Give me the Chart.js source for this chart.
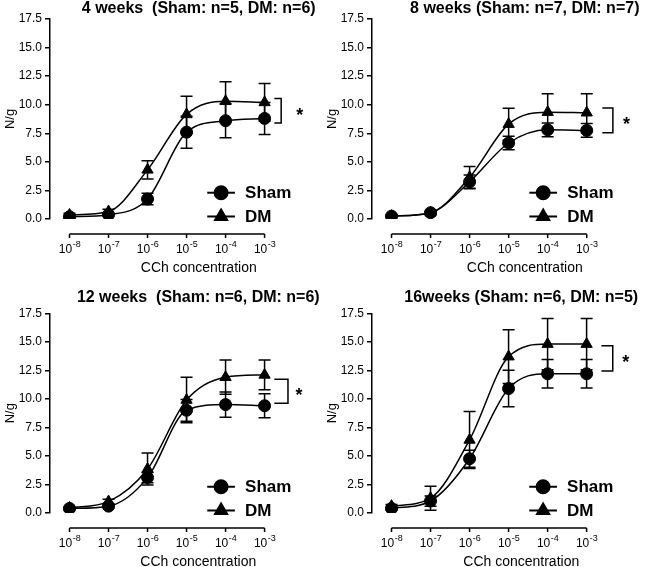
<!DOCTYPE html>
<html>
<head>
<meta charset="utf-8">
<script src="https://cdn.jsdelivr.net/npm/chart.js@4.4.1/dist/chart.umd.min.js"></script>
<style>
  html, body { margin: 0; padding: 0; background: #fff; overflow: hidden; width: 657px; height: 567px; }
  canvas { position: absolute; }
</style>
</head>
<body>
<canvas id="c1"></canvas>
<canvas id="c2"></canvas>
<canvas id="c3"></canvas>
<canvas id="c4"></canvas>
<script>
// concentrations as log10 exponents (10^-8 ... 10^-3 M)
const concExp = [-8, -7, -6, -5, -4, -3];
const xTickExp = [-8, -7, -6, -5, -4, -3];
const yTicks = [0, 2.5, 5, 7.5, 10, 12.5, 15, 17.5];
const seriesNames = ['Sham', 'DM'];

const titles = [
    '4 weeks  (Sham: n=5, DM: n=6)',
    '8 weeks (Sham: n=7, DM: n=7)',
    '12 weeks  (Sham: n=6, DM: n=6)',
    '16weeks (Sham: n=6, DM: n=5)'
];

// 4 weeks
const sham4 = [0.2, 0.38, 1.75, 7.6, 8.6, 8.8];
const sham4Sem = [0.1, 0.1, 0.5, 1.4, 1.5, 1.4];
const dm4 = [0.35, 0.65, 4.3, 9.15, 10.3, 10.2];
const dm4Sem = [0.15, 0.2, 0.8, 1.6, 1.7, 1.65];
// 8 weeks
const sham8 = [0.25, 0.55, 3.25, 6.65, 7.8, 7.75];
const sham8Sem = [0.1, 0.1, 0.6, 0.6, 0.6, 0.6];
const dm8 = [0.25, 0.55, 3.65, 8.3, 9.35, 9.3];
const dm8Sem = [0.1, 0.1, 0.95, 1.4, 1.6, 1.65];
// 12 weeks
const sham12 = [0.4, 0.6, 3.1, 9.0, 9.5, 9.4];
const sham12Sem = [0.1, 0.15, 0.45, 0.95, 1.1, 1.05];
const dm12 = [0.45, 1.0, 3.85, 9.9, 11.9, 12.1];
const dm12Sem = [0.1, 0.2, 1.4, 2.0, 1.5, 1.3];
// 16 weeks
const sham16 = [0.4, 1.05, 4.75, 10.9, 12.2, 12.2];
const sham16Sem = [0.15, 0.45, 0.75, 1.6, 1.25, 1.25];
const dm16 = [0.6, 1.3, 6.4, 13.7, 14.8, 14.8];
const dm16Sem = [0.15, 1.05, 2.5, 2.35, 2.25, 2.25];

// significance brackets: [x start, x end, y top, y bottom, asterisk x]
const bracket4 = [-2.75, -2.575, 10.55, 8.4, -2.1];
const bracket8 = [-2.6, -2.33, 9.72, 7.55, -1.98];
const bracket12 = [-2.75, -2.4, 11.72, 9.62, -2.12];
const bracket16 = [-2.62, -2.33, 14.66, 12.45, -2.0];

const shamSets = [sham4, sham8, sham12, sham16];
const shamSems = [sham4Sem, sham8Sem, sham12Sem, sham16Sem];
const dmSets = [dm4, dm8, dm12, dm16];
const dmSems = [dm4Sem, dm8Sem, dm12Sem, dm16Sem];
const brackets = [bracket4, bracket8, bracket12, bracket16];

// page geometry of each panel
const panels = [
    { id: 'c1', left: 0,   top: 0,   axisX: 50,  chartTop: 19,    titleCx: 202.5, titleMid: 9 },
    { id: 'c2', left: 322, top: 0,   axisX: 372, chartTop: 19,    titleCx: 528.5, titleMid: 9 },
    { id: 'c3', left: 0,   top: 288, axisX: 50,  chartTop: 313.3, titleCx: 202,   titleMid: 298 },
    { id: 'c4', left: 322, top: 288, axisX: 372, chartTop: 313.3, titleCx: 525,   titleMid: 298 }
];
const PX_PER_DECADE = 40;
const PLOT_H = 200;
const XAXIS_H = 66;
const X_MIN = -8.5;
const FONT = "Arial, 'Liberation Sans', sans-serif";

Chart.defaults.font.family = FONT;
Chart.defaults.color = '#000';

// offset x axis line (GraphPad style) with 10^n labels, drawn through the x scale
const xAxisLine = {
    id: 'xAxisLine',
    afterDraw(chart) {
        const { ctx, scales: { x, y } } = chart;
        const yy = y.getPixelForValue(0) + 15;
        ctx.save();
        ctx.strokeStyle = '#000';
        ctx.fillStyle = '#000';
        ctx.lineWidth = 1.5;
        ctx.beginPath();
        ctx.moveTo(x.getPixelForValue(xTickExp[0]), yy);
        ctx.lineTo(x.getPixelForValue(xTickExp[xTickExp.length - 1]), yy);
        xTickExp.forEach(v => {
            const px = x.getPixelForValue(v);
            ctx.moveTo(px, yy);
            ctx.lineTo(px, yy + 4);
        });
        ctx.stroke();

        ctx.textBaseline = 'alphabetic';
        ctx.textAlign = 'left';
        xTickExp.forEach(v => {
            const px = x.getPixelForValue(v);
            ctx.font = '12px ' + FONT;
            const wBase = ctx.measureText('10').width;
            ctx.font = '9px ' + FONT;
            const wExp = ctx.measureText(String(v)).width;
            const x0 = px - (wBase + wExp) / 2;
            ctx.font = '12px ' + FONT;
            ctx.fillText('10', x0, yy + 18.5);
            ctx.font = '9px ' + FONT;
            ctx.fillText(String(v), x0 + wBase + 0.5, yy + 13);
        });
        ctx.restore();
    }
};

// mean +/- SEM bars
const errorBars = {
    id: 'errorBars',
    beforeDatasetsDraw(chart) {
        const { ctx, scales: { x, y } } = chart;
        ctx.save();
        ctx.strokeStyle = '#000';
        ctx.lineWidth = 1.5;
        chart.data.datasets.forEach(ds => {
            ds.data.forEach((p, i) => {
                const e = ds.sem[i];
                const px = x.getPixelForValue(p.x);
                const top = y.getPixelForValue(p.y + e);
                const bot = y.getPixelForValue(p.y - e);
                ctx.beginPath();
                ctx.moveTo(px, top); ctx.lineTo(px, bot);
                ctx.moveTo(px - 6, top); ctx.lineTo(px + 6, top);
                ctx.moveTo(px - 6, bot); ctx.lineTo(px + 6, bot);
                ctx.stroke();
            });
        });
        ctx.restore();
    }
};

// significance bracket + asterisk, and the in-plot legend
const annotations = {
    id: 'annotations',
    afterDatasetsDraw(chart, args, opts) {
        const { ctx, scales: { x, y } } = chart;
        const b = opts.bracket;
        ctx.save();
        ctx.strokeStyle = '#000';
        ctx.fillStyle = '#000';
        ctx.lineWidth = 1.5;
        const x1 = x.getPixelForValue(b[0]), x2 = x.getPixelForValue(b[1]);
        const yt = y.getPixelForValue(b[2]), yb = y.getPixelForValue(b[3]);
        ctx.beginPath();
        ctx.moveTo(x1, yt); ctx.lineTo(x2, yt); ctx.lineTo(x2, yb); ctx.lineTo(x1, yb);
        ctx.stroke();
        ctx.font = 'bold 18px ' + FONT;
        ctx.textAlign = 'center';
        ctx.textBaseline = 'alphabetic';
        ctx.fillText('*', x.getPixelForValue(b[4]), (yt + yb) / 2 + 10);

        // legend
        const legY = [2.3, 0.22];
        chart.data.datasets.forEach((ds, i) => {
            const ly = y.getPixelForValue(legY[i]);
            const lx1 = x.getPixelForValue(-4.47), lx2 = x.getPixelForValue(-3.76);
            ctx.beginPath();
            ctx.moveTo(lx1, ly); ctx.lineTo(lx2, ly);
            ctx.lineWidth = 2;
            ctx.stroke();
            Chart.helpers.drawPoint(ctx, { pointStyle: ds.pointStyle, radius: ds.pointRadius + 0.5, rotation: 0, borderWidth: 1 }, (lx1 + lx2) / 2, ly);
            ctx.font = 'bold 17px ' + FONT;
            ctx.textAlign = 'left';
            ctx.textBaseline = 'middle';
            ctx.fillText(ds.label, x.getPixelForValue(-3.5), ly + 1);
        });
        ctx.restore();
    }
};

function makePanel(k) {
    const g = panels[k];
    const canvas = document.getElementById(g.id);
    const right = 2 * g.titleCx - g.axisX;
    const titleTop = g.titleMid - 8 - g.top;
    const titleBottom = g.chartTop - g.top - titleTop - 16;
    canvas.width = right - g.left;
    canvas.height = (g.chartTop - g.top) + PLOT_H + XAXIS_H;
    canvas.style.left = g.left + 'px';
    canvas.style.top = g.top + 'px';
    const xMax = X_MIN + (right - g.axisX) / PX_PER_DECADE;

    const mk = (vals, sem, i) => ({
        label: seriesNames[i],
        data: concExp.map((c, j) => ({ x: c, y: vals[j] })),
        sem: sem,
        borderColor: '#000',
        backgroundColor: '#000',
        borderWidth: 1.5,
        cubicInterpolationMode: 'monotone',
        pointStyle: i === 0 ? 'circle' : 'triangle',
        pointRadius: i === 0 ? 6 : 6.5,
        pointBackgroundColor: '#000',
        pointBorderColor: '#000',
        pointBorderWidth: 1
    });

    new Chart(canvas, {
        type: 'line',
        data: { datasets: [mk(shamSets[k], shamSems[k], 0), mk(dmSets[k], dmSems[k], 1)] },
        options: {
            responsive: false,
            animation: false,
            layout: { padding: 0 },
            plugins: {
                legend: { display: false },
                tooltip: { enabled: false },
                title: {
                    display: true,
                    text: titles[k],
                    fullSize: false,
                    color: '#000',
                    font: { size: 16, weight: 'bold', lineHeight: 1 },
                    padding: { top: titleTop, bottom: titleBottom }
                },
                annotations: { bracket: brackets[k] }
            },
            scales: {
                x: {
                    type: 'linear',
                    min: X_MIN,
                    max: xMax,
                    afterBuildTicks: s => { s.ticks = xTickExp.map(v => ({ value: v })); },
                    afterFit: s => { s.height = XAXIS_H; },
                    border: { display: false },
                    grid: { display: false, drawTicks: false },
                    ticks: { display: false },
                    title: { display: true, text: 'CCh concentration', color: '#000', font: { size: 14 },
                             padding: { top: 0, bottom: 8 } }
                },
                y: {
                    type: 'linear',
                    min: 0,
                    max: 17.5,
                    afterBuildTicks: s => { s.ticks = yTicks.map(v => ({ value: v })); },
                    afterFit: s => { s.width = g.axisX - g.left; },
                    border: { display: true, color: '#000', width: 1.5 },
                    grid: { display: true, drawOnChartArea: false, drawTicks: true, tickLength: 5, color: '#000', lineWidth: 1.5 },
                    ticks: { color: '#000', font: { size: 12 }, padding: 3, callback: v => v.toFixed(1) },
                    title: { display: true, text: 'N/g', color: '#000', font: { size: 13 }, padding: { top: 3, bottom: 0 } }
                }
            }
        },
        plugins: [xAxisLine, errorBars, annotations]
    });
}

[0, 1, 2, 3].forEach(makePanel);
</script>
</body>
</html>
